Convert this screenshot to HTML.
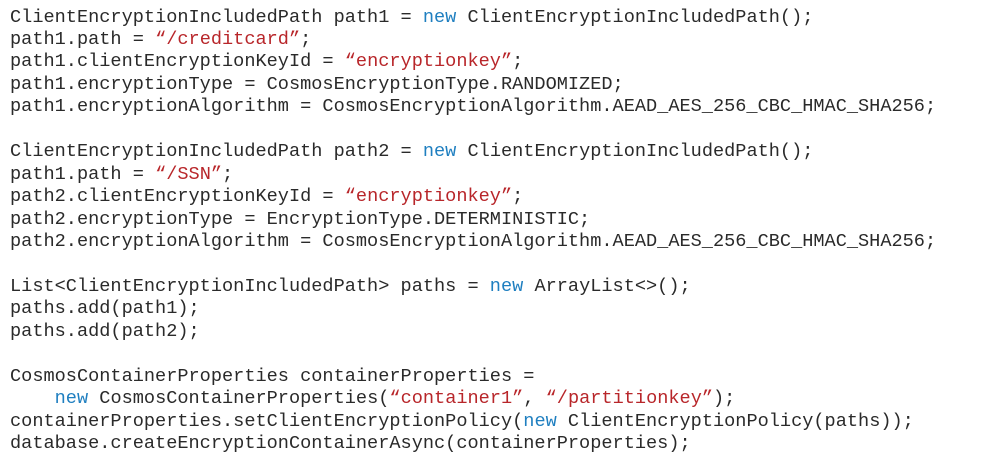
<!DOCTYPE html>
<html><head><meta charset="utf-8"><style>
html,body{margin:0;padding:0;background:#fff;width:986px;height:462px;overflow:hidden}
pre{position:absolute;left:10px;top:6.5px;margin:0;font-family:"Liberation Mono",monospace;font-size:18.6px;line-height:22.45px;color:#2a2a2a}
.k{color:#1f7fc0}.s{color:#b8262a}
</style></head><body><pre>ClientEncryptionIncludedPath path1 = <span class="k">new</span> ClientEncryptionIncludedPath();
path1.path = <span class="s">“/creditcard”</span>;
path1.clientEncryptionKeyId = <span class="s">“encryptionkey”</span>;
path1.encryptionType = CosmosEncryptionType.RANDOMIZED;
path1.encryptionAlgorithm = CosmosEncryptionAlgorithm.AEAD_AES_256_CBC_HMAC_SHA256;

ClientEncryptionIncludedPath path2 = <span class="k">new</span> ClientEncryptionIncludedPath();
path1.path = <span class="s">“/SSN”</span>;
path2.clientEncryptionKeyId = <span class="s">“encryptionkey”</span>;
path2.encryptionType = EncryptionType.DETERMINISTIC;
path2.encryptionAlgorithm = CosmosEncryptionAlgorithm.AEAD_AES_256_CBC_HMAC_SHA256;

List&lt;ClientEncryptionIncludedPath&gt; paths = <span class="k">new</span> ArrayList&lt;&gt;();
paths.add(path1);
paths.add(path2);

CosmosContainerProperties containerProperties =
    <span class="k">new</span> CosmosContainerProperties(<span class="s">“container1”</span>, <span class="s">“/partitionkey”</span>);
containerProperties.setClientEncryptionPolicy(<span class="k">new</span> ClientEncryptionPolicy(paths));
database.createEncryptionContainerAsync(containerProperties);</pre></body></html>
